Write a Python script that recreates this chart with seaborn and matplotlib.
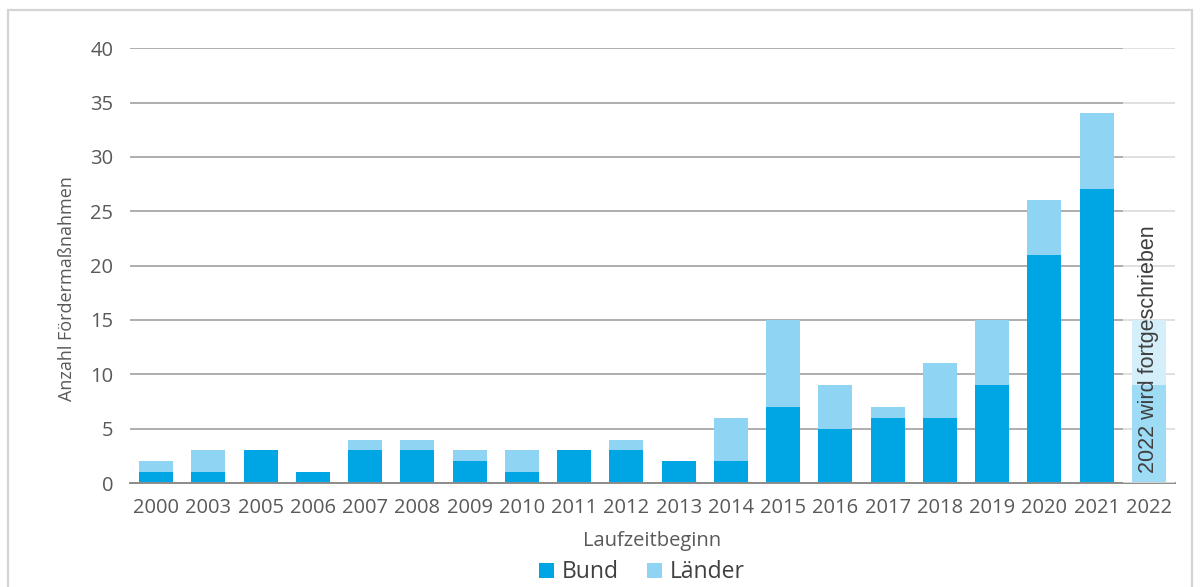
import matplotlib
matplotlib.use("Agg")
import matplotlib.pyplot as plt
from matplotlib.patches import Patch, Rectangle
import seaborn as sns
import pandas as pd

# Funding measures by start year
years = ["2000", "2003", "2005", "2006", "2007", "2008", "2009", "2010", "2011", "2012",
         "2013", "2014", "2015", "2016", "2017", "2018", "2019", "2020", "2021", "2022"]
bund = [1, 1, 3, 1, 3, 3, 2, 1, 3, 3, 2, 2, 7, 5, 6, 6, 9, 21, 27, 9]
laender = [1, 2, 0, 0, 1, 1, 1, 2, 0, 1, 0, 4, 8, 4, 1, 5, 6, 5, 7, 6]

df = pd.DataFrame({"Jahr": years, "Bund": bund, "Länder": laender})
df["Gesamt"] = df["Bund"] + df["Länder"]

c_bund = "#00a5e3"
c_laender = "#8fd4f2"
text_col = "#595959"

sns.set_theme(style="white")
plt.rcParams["font.family"] = ["Open Sans", "DejaVu Sans"]

fig = plt.figure(figsize=(12, 5.87), dpi=100)
ax = fig.add_axes([0.1083, 0.177, 0.8709, 0.741])

# stacked bars: total (Länder on top), then Bund at the base
sns.barplot(data=df, x="Jahr", y="Gesamt", color=c_laender, width=0.65,
            saturation=1, ax=ax, zorder=2, linewidth=0, edgecolor="none")
sns.barplot(data=df, x="Jahr", y="Bund", color=c_bund, width=0.65,
            saturation=1, ax=ax, zorder=3, linewidth=0, edgecolor="none")

ax.set_ylim(0, 40)
ax.set_xlim(-0.5, len(years) - 0.5)
ax.set_yticks(range(0, 41, 5))
ax.yaxis.grid(True, color="#a8a8a8", linewidth=1.3, zorder=0)
ax.set_axisbelow(True)
for s in ["left", "right", "top"]:
    ax.spines[s].set_visible(False)
ax.spines["bottom"].set_color("#8c8c8c")
ax.spines["bottom"].set_linewidth(1.4)
ax.spines["bottom"].set_zorder(4)

ax.tick_params(axis="both", length=0, labelsize=14.5, colors=text_col)
ax.tick_params(axis="x", pad=11)
ax.tick_params(axis="y", pad=12)
ax.set_xlabel("Laufzeitbeginn", fontsize=14.5, color=text_col, labelpad=9)
ax.set_ylabel("Anzahl Fördermaßnahmen", fontsize=13, color=text_col)
ax.yaxis.set_label_coords(-0.052, 0.448)

# the latest year is still being updated: fade its column
ax.axvspan(18.5, 19.5, color="white", alpha=0.62, zorder=5, linewidth=0)
ax.text(19, 0.9, "2022 wird fortgeschrieben", rotation=90, ha="center", va="bottom",
        fontsize=15.5, color="#3f3f3f", family=["Liberation Sans", "DejaVu Sans"], zorder=6)

handles = [Patch(facecolor=c_bund, edgecolor="none", label="Bund"),
           Patch(facecolor=c_laender, edgecolor="none", label="Länder")]
leg = fig.legend(handles=handles, loc="center", bbox_to_anchor=(0.535, 0.025), ncol=2,
                 frameon=False, fontsize=16.5, handlelength=0.65, handleheight=0.65,
                 handletextpad=0.35, columnspacing=1.2)
for t in leg.get_texts():
    t.set_color("#404040")

# light frame around the figure
fig.patches.append(Rectangle((8 / 1200, -0.02), 1184 / 1200, 1 - 10 / 587 + 0.02,
                             transform=fig.transFigure, fill=False,
                             edgecolor="#d4d4d4", linewidth=1.6))

fig.savefig("out.png", dpi=100, facecolor="white")
